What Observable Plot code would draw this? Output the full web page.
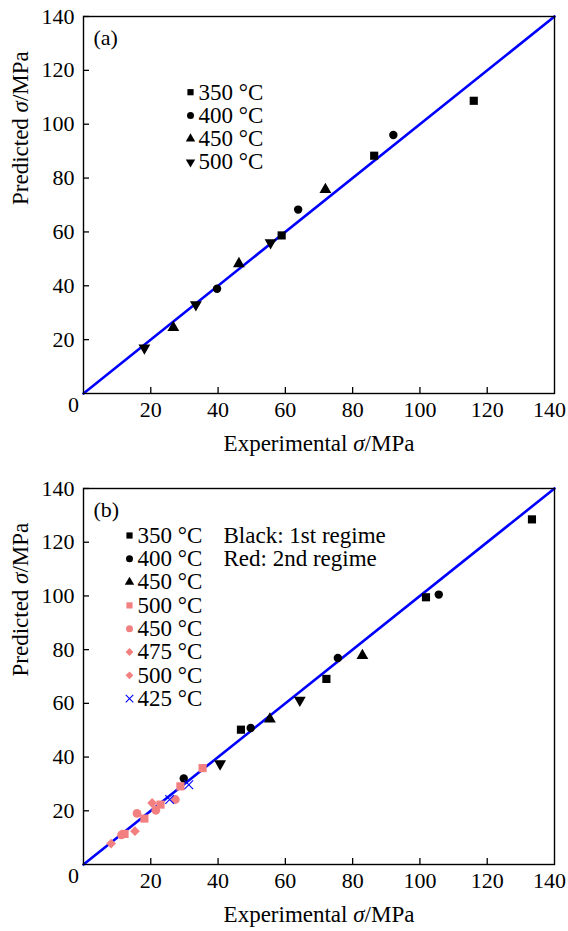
<!DOCTYPE html>
<html><head><meta charset="utf-8">
<script src="https://cdn.jsdelivr.net/npm/d3@7"></script>
<script src="https://cdn.jsdelivr.net/npm/@observablehq/plot@0.6"></script>
<style>
body{margin:0;background:#fff}
#chart svg{display:block}
</style>
</head><body><div id="chart"></div>
<script>
// ---------- data ----------
const tickValues = [20, 40, 60, 80, 100, 120, 140];
const originLabel = [0];
const diagonal = [0, 140];
const xTitle = "Experimental σ/MPa";
const yTitle = "Predicted σ/MPa";

// Panel (a)
const aLabels = ["350 °C", "400 °C", "450 °C", "500 °C"];
const a350Exp = [116.0, 86.4, 58.9];  const a350Pred = [108.7, 88.3, 58.7];
const a400Exp = [92.1, 63.8, 39.7];   const a400Pred = [96.0, 68.3, 38.9];
const a450Exp = [71.9, 46.2, 26.7];   const a450Pred = [75.7, 48.2, 24.5];
const a500Exp = [55.6, 33.4, 18.1];   const a500Pred = [56.0, 33.0, 16.9];

// Panel (b)
const bLabels = ["350 °C", "400 °C", "450 °C", "500 °C", "450 °C", "475 °C", "500 °C", "425 °C"];
const bNotes = ["Black: 1st regime", "Red: 2nd regime"];
const b350Exp = [133.3, 101.8, 72.2, 46.8];  const b350Pred = [128.5, 99.5, 69.1, 50.2];
const b400Exp = [105.6, 75.6, 49.7, 29.8];   const b400Pred = [100.5, 76.9, 50.8, 32.0];
const b450Exp = [82.9, 55.4];                const b450Pred = [77.8, 54.1];
const b500kExp = [64.3, 40.6];               const b500kPred = [61.2, 37.5];
const b500rExp = [35.4, 28.8, 22.9, 18.1, 12.2]; const b500rPred = [35.9, 29.1, 22.3, 17.1, 11.4];
const b450rExp = [27.3, 21.5, 15.9, 11.3];   const b450rPred = [24.2, 20.2, 19.0, 11.0];
const b475Exp = [20.4, 8.2];                 const b475Pred = [22.9, 7.8];
const b500dExp = [15.3];                     const b500dPred = [12.4];
const b425Exp = [25.6, 31.3];                const b425Pred = [24.2, 29.7];

// ---------- styles ----------
const BLACK = "#000", RED = "#f38080", BLUE = "#0000ff";
const FONT = "Liberation Serif";
const sq  = {symbol: "square", fill: BLACK, r: 4.6};
const ci  = {symbol: "circle", fill: BLACK, r: 4.2};
const tu  = {symbol: "triangle", fill: BLACK, r: 4.4};
const td  = {symbol: "triangle", fill: BLACK, r: 4.4, rotate: 180};
const rsq = {symbol: "square", fill: RED, r: 4.6};
const rci = {symbol: "circle", fill: RED, r: 4.4};
const rdi = {symbol: "diamond2", fill: RED, r: 4.4};
const bx  = {symbol: "times", fill: "none", stroke: BLUE, strokeWidth: 1.1, r: 4.0};

const pts = (xs, ys) => xs.map((x, i) => ({x, y: ys[i]}));

function panel({height, marginTop, series, legend, legendDx, legendTop, notes, tag}) {
  const marks = [];
  marks.push(Plot.line(diagonal, {x: d => d, y: d => d, stroke: BLUE, strokeWidth: 2.6}));
  for (const s of series) {
    const {symbol, fill, stroke, strokeWidth, r, rotate} = s.style;
    marks.push(Plot.dot(s.data, {x: "x", y: "y", symbol, fill, stroke: stroke || "none", strokeWidth, r, rotate}));
  }
  legend.forEach((l, i) => {
    const {symbol, fill, stroke, strokeWidth, rotate} = l.style;
    const dy = legendTop + i * 23.3;
    marks.push(Plot.dot([l.label], {frameAnchor: "top-left", dx: legendDx, dy, symbol, fill, stroke: stroke || "none", strokeWidth, r: 3.5, rotate}));
    marks.push(Plot.text([l.label], {frameAnchor: "top-left", dx: legendDx + 8, dy, text: d => d, textAnchor: "start", lineAnchor: "middle", fontSize: 23, fill: BLACK}));
  });
  (notes || []).forEach((n, i) => {
    marks.push(Plot.text([n], {frameAnchor: "top-left", dx: 140, dy: legendTop + i * 23.3, text: d => d, textAnchor: "start", lineAnchor: "middle", fontSize: 23, fill: BLACK}));
  });
  marks.push(Plot.text([tag], {frameAnchor: "top-left", dx: 10, dy: 21, text: d => d, textAnchor: "start", lineAnchor: "middle", fontSize: 22}));
  marks.push(Plot.frame({stroke: BLACK, strokeWidth: 1.4}));
  marks.push(Plot.axisX(tickValues.slice(0, -1), {tickSize: -6, tickPadding: 14, fontSize: 22, label: null, strokeWidth: 1.3}));
  marks.push(Plot.axisX(tickValues.slice(-1), {tickSize: 0, tickPadding: 8, dx: -5, fontSize: 22, label: null}));
  marks.push(Plot.axisY(tickValues, {tickSize: -6, tickPadding: 15, fontSize: 22, label: null, strokeWidth: 1.3}));
  marks.push(Plot.text(originLabel, {x: d => d, y: d => d, text: d => String(d), dx: -10, dy: 11, fontSize: 22, lineAnchor: "middle"}));
  marks.push(Plot.text([xTitle], {frameAnchor: "bottom", dy: 50, text: d => d, lineAnchor: "middle", fontSize: 23}));
  marks.push(Plot.text([yTitle], {frameAnchor: "left", dx: -63, text: d => d, rotate: -90, lineAnchor: "middle", fontSize: 23}));
  const svg = Plot.plot({
    width: 568, height, marginTop, marginBottom: 67, marginLeft: 83, marginRight: 14,
    x: {domain: [0, 140]}, y: {domain: [0, 140]},
    style: {background: "#fff", color: "#000"},
    marks
  });
  svg.setAttribute("font-family", FONT);
  svg.style.fontFamily = FONT;
  svg.querySelectorAll("g, text").forEach(el => el.setAttribute("font-family", FONT));
  return svg;
}

const svgA = panel({
  height: 460, marginTop: 16, tag: "(a)", legendDx: 107, legendTop: 75.7,
  series: [
    {data: pts(a350Exp, a350Pred), style: sq},
    {data: pts(a400Exp, a400Pred), style: ci},
    {data: pts(a450Exp, a450Pred), style: tu},
    {data: pts(a500Exp, a500Pred), style: td}
  ],
  legend: aLabels.map((label, i) => ({label, style: [sq, ci, tu, td][i]}))
});

const svgB = panel({
  height: 471, marginTop: 28, tag: "(b)", legendDx: 46, legendTop: 47, notes: bNotes,
  series: [
    {data: pts(b350Exp, b350Pred), style: sq},
    {data: pts(b400Exp, b400Pred), style: ci},
    {data: pts(b450Exp, b450Pred), style: tu},
    {data: pts(b500kExp, b500kPred), style: td},
    {data: pts(b500rExp, b500rPred), style: rsq},
    {data: pts(b450rExp, b450rPred), style: rci},
    {data: pts(b475Exp, b475Pred), style: rdi},
    {data: pts(b500dExp, b500dPred), style: rdi},
    {data: pts(b425Exp, b425Pred), style: bx}
  ],
  legend: bLabels.map((label, i) => ({label, style: [sq, ci, tu, rsq, rci, rdi, rdi, bx][i]}))
});

const chart = document.getElementById("chart");
chart.appendChild(svgA);
chart.appendChild(svgB);

// italic sigma in axis titles
d3.selectAll("#chart text").each(function () {
  const t = d3.select(this);
  const tsp = t.selectAll("tspan");
  const target = tsp.size() ? tsp : t;
  target.each(function () {
    const el = d3.select(this);
    const s = el.text();
    if (s.includes("σ")) {
      const [pre, post] = s.split("σ");
      el.text(null);
      el.append("tspan").text(pre);
      el.append("tspan").attr("font-style", "italic").text("σ");
      el.append("tspan").text(post);
    }
  });
});
</script>
</body></html>
